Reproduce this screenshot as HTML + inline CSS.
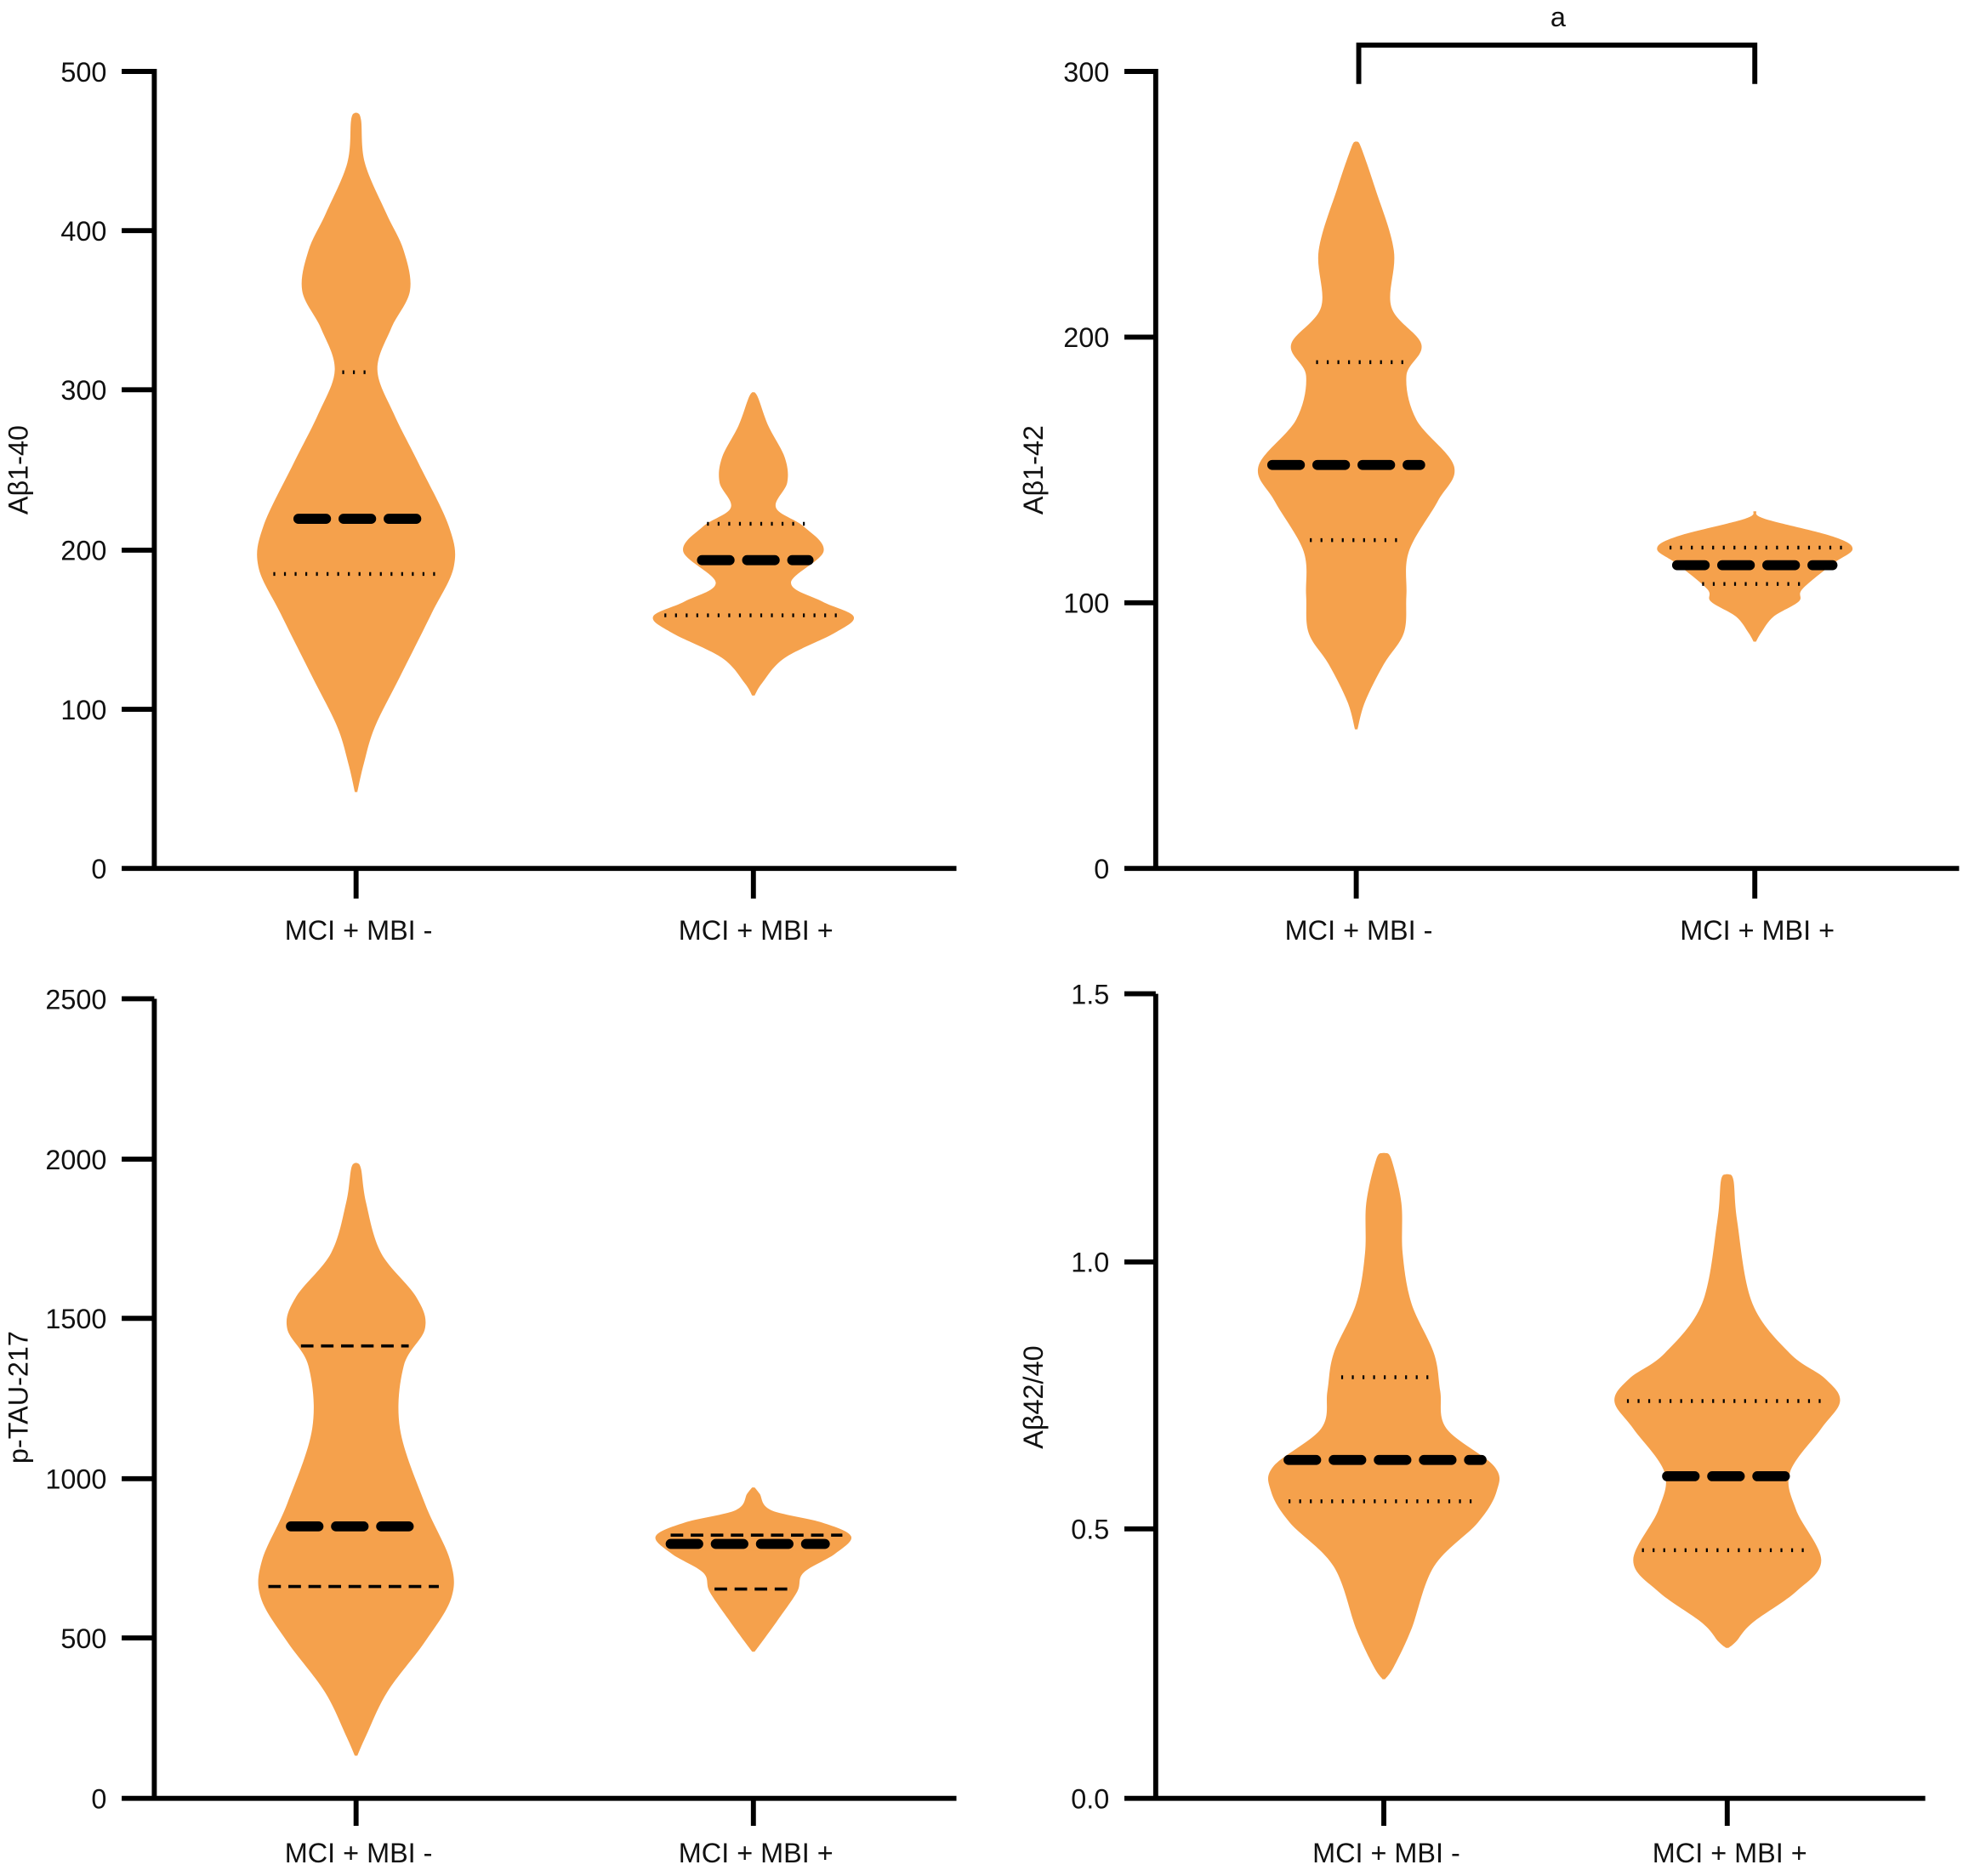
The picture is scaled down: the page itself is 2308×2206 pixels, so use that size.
<!DOCTYPE html>
<html><head><meta charset="utf-8"><style>
html,body{margin:0;padding:0;background:#fff;}
svg{display:block}
text{font-family:"Liberation Sans","DejaVu Sans",sans-serif;fill:#111}
</style></head><body>
<svg id="s" width="2308" height="2206" viewBox="0 0 1566 1497" xmlns="http://www.w3.org/2000/svg">
<g stroke="#000" stroke-width="4" fill="none">
<path d="M123 55V693M97 693H763M97 57H123M97 184H123M97 311H123M97 439H123M97 566H123M284 693V717M601 693V717"/>
<path d="M922 55V693M897 693H1563M897 57H922M897 269H922M897 481H922M1082 693V717M1400 693V717"/>
<path d="M1084 67V36H1400V67"/>
<path d="M123 797V1435M97 1435H763M97 797H123M97 925H123M97 1052H123M97 1180H123M97 1307H123M284 1435V1457M601 1435V1457"/>
<path d="M922 793V1435M897 1435H1536M897 793H922M897 1007H922M897 1220H922M1104 1435V1457M1378 1435V1457"/>
</g>
<g font-size="22" text-anchor="end">
<text x="85" y="65">500</text><text x="85" y="192">400</text><text x="85" y="319">300</text><text x="85" y="447">200</text><text x="85" y="574">100</text><text x="85" y="701">0</text>
<text x="885" y="65">300</text><text x="885" y="277">200</text><text x="885" y="489">100</text><text x="885" y="701">0</text>
<text x="85" y="805">2500</text><text x="85" y="933">2000</text><text x="85" y="1060">1500</text><text x="85" y="1188">1000</text><text x="85" y="1315">500</text><text x="85" y="1443">0</text>
<text x="885" y="801">1.5</text><text x="885" y="1015">1.0</text><text x="885" y="1228">0.5</text><text x="885" y="1443">0.0</text>
</g>
<g font-size="22" text-anchor="middle">
<text x="286" y="750">MCI + MBI -</text><text x="603" y="750">MCI + MBI +</text>
<text x="1084" y="750">MCI + MBI -</text><text x="1402" y="750">MCI + MBI +</text>
<text x="286" y="1486">MCI + MBI -</text><text x="603" y="1486">MCI + MBI +</text>
<text x="1106" y="1486">MCI + MBI -</text><text x="1380" y="1486">MCI + MBI +</text>
<text x="1243" y="21">a</text>
<text transform="translate(22,375) rotate(-90)">Aβ1-40</text>
<text transform="translate(832,375) rotate(-90)">Aβ1-42</text>
<text transform="translate(22,1115) rotate(-90)">p-TAU-217</text>
<text transform="translate(832,1115) rotate(-90)">Aβ42/40</text>
</g>
<g id="v" fill="#F5A14C"></g>
<g id="l"></g>
</svg>
<script>
function vio(cx,pts){
 var R=pts.map(p=>[cx+p[1],p[0]]), L=pts.slice().reverse().map(p=>[cx-p[1],p[0]]);
 function cr(P){var d="M"+P[0][0]+" "+P[0][1];for(var i=0;i<P.length-1;i++){var p0=P[Math.max(0,i-1)],p1=P[i],p2=P[i+1],p3=P[Math.min(P.length-1,i+2)];
 d+=" C"+(p1[0]+(p2[0]-p0[0])/6)+" "+(p1[1]+(p2[1]-p0[1])/6)+" "+(p2[0]-(p3[0]-p1[0])/6)+" "+(p2[1]-(p3[1]-p1[1])/6)+" "+p2[0]+" "+p2[1];}return d;}
 var p=document.createElementNS("http://www.w3.org/2000/svg","path");
 p.setAttribute("d",cr(R)+" L"+cr(L).slice(1)+"Z");
 document.getElementById("v").appendChild(p);
}
function line(x1,x2,y,type){
 var p=document.createElementNS("http://www.w3.org/2000/svg","line");
 p.setAttribute("x1",x1);p.setAttribute("x2",x2);p.setAttribute("y1",y);p.setAttribute("y2",y);
 p.setAttribute("stroke","#000");
 if(type=="m"){p.setAttribute("stroke-width","8");p.setAttribute("stroke-dasharray","22 14");p.setAttribute("stroke-linecap","round");}
 else if(type=="d"){p.setAttribute("stroke-width","3");p.setAttribute("stroke-dasharray","1.5 7");}
 else {p.setAttribute("stroke-width","2.5");p.setAttribute("stroke-dasharray","10 6");}
 document.getElementById("l").appendChild(p);
}
vio(284,[[90,1],[96,4],[130,7],[170,24],[200,38],[232,43],[262,28],[295,17],[330,30],[370,50],[420,74],[452,78],[490,60],[540,35],[580,15],[610,6],[632,1]]);
vio(601,[[313,1],[318,4],[340,12],[365,25],[385,27],[405,18],[420,40],[440,56],[465,30],[480,55],[492,80],[505,65],[525,25],[545,7],[555,1]]);
vio(1082,[[113,1],[118,4],[150,15],[200,30],[245,28],[275,52],[300,40],[335,48],[372,78],[400,65],[440,42],[475,40],[505,38],[530,22],[560,7],[582,1]]);
vio(1400,[[408,1],[414,8],[428,62],[438,78],[450,62],[470,38],[480,35],[492,15],[505,5],[512,1]]);
vio(284,[[928,1],[933,4],[960,8],[1000,20],[1035,48],[1060,55],[1090,38],[1140,35],[1200,55],[1245,75],[1275,76],[1310,55],[1350,25],[1385,8],[1401,1]]);
vio(601,[[1187,1],[1192,5],[1205,14],[1215,55],[1226,78],[1240,65],[1255,40],[1270,35],[1292,20],[1310,7],[1318,1]]);
vio(1104,[[920,1],[925,6],[960,14],[1000,15],[1040,22],[1080,40],[1110,45],[1140,50],[1170,88],[1190,90],[1215,75],[1250,40],[1300,22],[1330,8],[1340,1]]);
vio(1378,[[937,1],[942,5],[975,8],[1040,20],[1080,50],[1100,78],[1118,90],[1140,75],[1175,50],[1205,55],[1245,75],[1270,55],[1295,20],[1310,7],[1315,1]]);
line(238,340,414,"m");line(273,298,297,"d");line(218,350,458,"d");
line(560,645,447,"m");line(564,646,418,"d");line(530,672,491,"d");
line(1015,1133,371,"m");line(1050,1125,289,"d");line(1045,1118,431,"d");
line(1338,1462,451,"m");line(1332,1470,437,"d");line(1358,1440,466,"d");
line(232,340,1218,"m");line(240,326,1074,"o");line(214,350,1266,"o");
line(535,658,1232,"m");line(535,672,1225,"o");line(570,633,1268,"o");
line(1028,1182,1165,"m");line(1070,1145,1099,"d");line(1028,1178,1198,"d");
line(1330,1428,1178,"m");line(1298,1455,1118,"d");line(1310,1445,1237,"d");
</script>
</body></html>
